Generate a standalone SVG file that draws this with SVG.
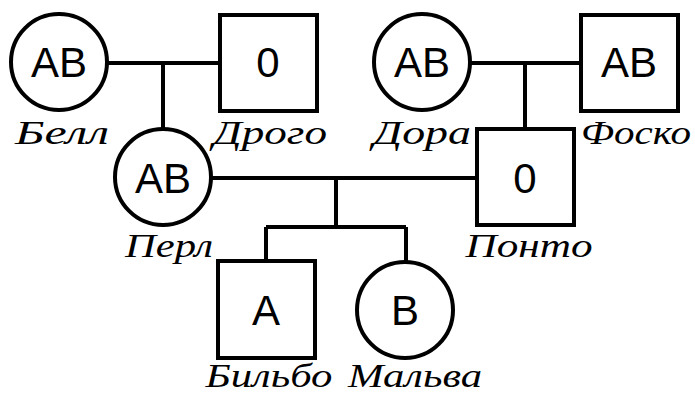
<svg xmlns="http://www.w3.org/2000/svg" width="695" height="394" viewBox="0 0 695 394">
<style>
.s{fill:#fff;stroke:#000;stroke-width:4}
.l{fill:none;stroke:#000;stroke-width:4}
.t{font-family:"Liberation Sans",Arial,sans-serif;font-size:42px;text-anchor:middle;fill:#000}
.n{font-family:"Liberation Serif","Times New Roman",serif;font-style:italic;font-size:34px;text-anchor:middle;fill:#000}
</style>
<rect width="695" height="394" fill="#fff"/>
<g id="connectors">
<path class="l" d="M107 63H220M163 63V129"/>
<path class="l" d="M471 63H581M525 63V129"/>
<path class="l" d="M212 178H477M336 178V227M266 227H406M266 227V261M406 227V261"/>
</g>
<g id="bell"><circle class="s" cx="59" cy="62" r="48"/><text class="t" x="59" y="77">AB</text><text class="n" x="62" y="144" textLength="94" lengthAdjust="spacingAndGlyphs">Белл</text></g>
<g id="drogo"><rect class="s" x="220" y="15" width="97" height="96"/><text class="t" x="268" y="77">0</text><text class="n" x="270" y="144" textLength="114" lengthAdjust="spacingAndGlyphs">Дрого</text></g>
<g id="dora"><circle class="s" cx="422" cy="62" r="48"/><text class="t" x="422" y="77">AB</text><text class="n" x="422" y="144" textLength="98" lengthAdjust="spacingAndGlyphs">Дора</text></g>
<g id="fosko"><rect class="s" x="581" y="15" width="97" height="96"/><text class="t" x="629" y="77">AB</text><text class="n" x="636" y="144" textLength="110" lengthAdjust="spacingAndGlyphs">Фоско</text></g>
<g id="perl"><circle class="s" cx="163" cy="177" r="48"/><text class="t" x="163" y="193">AB</text><text class="n" x="169" y="257" textLength="88" lengthAdjust="spacingAndGlyphs">Перл</text></g>
<g id="ponto"><rect class="s" x="477" y="129" width="97" height="96"/><text class="t" x="525" y="193">0</text><text class="n" x="529" y="257" textLength="127" lengthAdjust="spacingAndGlyphs">Понто</text></g>
<g id="bilbo"><rect class="s" x="218" y="261" width="97" height="97"/><text class="t" x="266" y="325">A</text><text class="n" x="269" y="387" textLength="127" lengthAdjust="spacingAndGlyphs">Бильбо</text></g>
<g id="malva"><circle class="s" cx="405" cy="310" r="48"/><text class="t" x="405" y="325">B</text><text class="n" x="415" y="387" textLength="134" lengthAdjust="spacingAndGlyphs">Мальва</text></g>
</svg>
